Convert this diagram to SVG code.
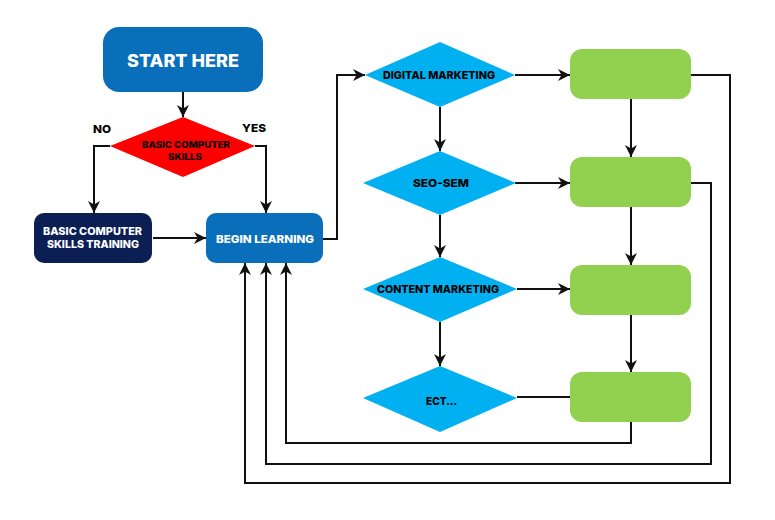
<svg xmlns="http://www.w3.org/2000/svg" width="775" height="520" viewBox="0 0 775 520">
<style>
.t{font-family:Inter,"Liberation Sans",Arial,sans-serif;font-weight:800;text-anchor:middle}
.w{fill:#ffffff}
.k{fill:#000000}
.c{fill:none;stroke:#111;stroke-width:2;stroke-linejoin:miter}
.g{fill:#92D050}
.d{fill:#00B0F0}
</style>
<defs>
<marker id="ah" markerUnits="userSpaceOnUse" markerWidth="12" markerHeight="12" viewBox="0 0 10 10" refX="10" refY="5" orient="auto">
<path d="M0,0 L10,5 L0,10 L3,5 z" fill="#111"/>
</marker>
</defs>
<rect width="775" height="520" fill="#ffffff"/>
<g id="connectors">
<path class="c" d="M183,92 V117" marker-end="url(#ah)"/>
<path class="c" d="M110,146 H94 V213" marker-end="url(#ah)"/>
<path class="c" d="M255,146 H266 V213" marker-end="url(#ah)"/>
<path class="c" d="M153,238 H206" marker-end="url(#ah)"/>
<path class="c" d="M323,239 H337 V75 H365" marker-end="url(#ah)"/>
<path class="c" d="M515,75 H570" marker-end="url(#ah)"/>
<path class="c" d="M515,183 H570" marker-end="url(#ah)"/>
<path class="c" d="M517,289 H570" marker-end="url(#ah)"/>
<path class="c" d="M517,397 H570"/>
<path class="c" d="M440,107 V151" marker-end="url(#ah)"/>
<path class="c" d="M440,215 V257" marker-end="url(#ah)"/>
<path class="c" d="M440,322 V366" marker-end="url(#ah)"/>
<path class="c" d="M631,99 V157" marker-end="url(#ah)"/>
<path class="c" d="M631,207 V265" marker-end="url(#ah)"/>
<path class="c" d="M631,315 V372" marker-end="url(#ah)"/>
<path class="c" d="M691,75 H730 V483 H245 V263" marker-end="url(#ah)"/>
<path class="c" d="M691,183 H711 V464 H266 V263" marker-end="url(#ah)"/>
<path class="c" d="M631,422 V443 H286 V263" marker-end="url(#ah)"/>
</g>
<g id="start">
<rect x="103" y="27" width="160" height="65" rx="16" fill="#0A6FBA"/>
<text class="t w" x="183" y="67" font-size="17" textLength="112" lengthAdjust="spacingAndGlyphs">START HERE</text>
</g>
<g id="decision-basic">
<polygon points="183,117 255,146 183,177 110,146" fill="#FF0000"/>
<text class="t k" x="186" y="147.5" font-size="9.5" textLength="88" lengthAdjust="spacingAndGlyphs">BASIC COMPUTER</text>
<text class="t k" x="185" y="159.5" font-size="9.5" textLength="34" lengthAdjust="spacingAndGlyphs">SKILLS</text>
</g>
<g id="label-no"><text class="t k" x="102" y="133" font-size="11" textLength="18" lengthAdjust="spacingAndGlyphs">NO</text></g>
<g id="label-yes"><text class="t k" x="254" y="132" font-size="11" textLength="24" lengthAdjust="spacingAndGlyphs">YES</text></g>
<g id="training">
<rect x="34" y="213" width="118" height="50" rx="10" fill="#0B1F55"/>
<text class="t w" x="92.5" y="235" font-size="10.5" textLength="99" lengthAdjust="spacingAndGlyphs">BASIC COMPUTER</text>
<text class="t w" x="93" y="247.5" font-size="10.5" textLength="92" lengthAdjust="spacingAndGlyphs">SKILLS TRAINING</text>
</g>
<g id="begin">
<rect x="206" y="213" width="117" height="50" rx="10" fill="#0A6FBA"/>
<text class="t w" x="265" y="243" font-size="11" textLength="98" lengthAdjust="spacingAndGlyphs">BEGIN LEARNING</text>
</g>
<g id="digital">
<polygon points="440,42 515,75 440,107 365,75" class="d"/>
<text class="t k" x="439" y="79" font-size="11" textLength="112" lengthAdjust="spacingAndGlyphs">DIGITAL MARKETING</text>
</g>
<g id="seo">
<polygon points="440,151 516,183 440,215 363,183" class="d"/>
<text class="t k" x="441" y="186.5" font-size="11" textLength="56" lengthAdjust="spacingAndGlyphs">SEO-SEM</text>
</g>
<g id="content">
<polygon points="440,257 517,289 440,322 363,289" class="d"/>
<text class="t k" x="438" y="293" font-size="11" textLength="122" lengthAdjust="spacingAndGlyphs">CONTENT MARKETING</text>
</g>
<g id="ect">
<polygon points="440,366 517,398 440,432 363,398" class="d"/>
<text class="t k" x="441.5" y="405" font-size="11" textLength="31" lengthAdjust="spacingAndGlyphs">ECT...</text>
</g>
<g id="green1"><rect x="570" y="49" width="121" height="50" rx="12" class="g"/></g>
<g id="green2"><rect x="570" y="157" width="121" height="50" rx="12" class="g"/></g>
<g id="green3"><rect x="570" y="265" width="121" height="50" rx="12" class="g"/></g>
<g id="green4"><rect x="570" y="372" width="121" height="50" rx="12" class="g"/></g>
</svg>
